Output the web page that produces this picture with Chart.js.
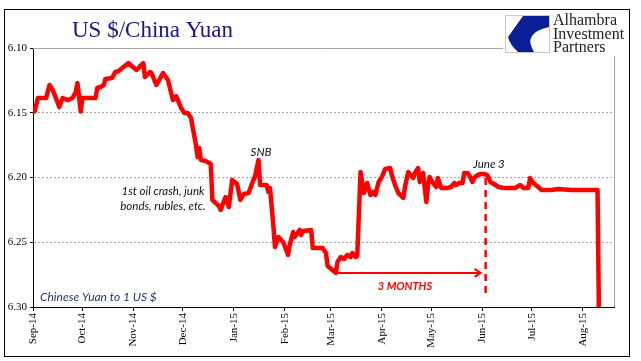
<!DOCTYPE html>
<html>
<head>
<meta charset="utf-8">
<script src="https://cdn.jsdelivr.net/npm/chart.js@4.4.0/dist/chart.umd.min.js"></script>
<style>
  body { margin: 0; background: #fff; }
</style>
</head>
<body>
<canvas id="cnyChart" width="641" height="361"></canvas>
<script>
// USD/CNY
var dates = [
  '2014-09-01','2014-09-02','2014-09-04','2014-09-09','2014-09-11','2014-09-13','2014-09-17','2014-09-19',
  '2014-09-22','2014-09-25','2014-09-27','2014-09-28','2014-09-30','2014-10-01','2014-10-09','2014-10-10',
  '2014-10-12','2014-10-14','2014-10-15','2014-10-19','2014-10-21','2014-10-23','2014-10-26','2014-10-29',
  '2014-10-31','2014-11-03','2014-11-07','2014-11-08','2014-11-11','2014-11-12','2014-11-15','2014-11-19',
  '2014-11-22','2014-11-25','2014-11-27','2014-11-30','2014-12-02','2014-12-04','2014-12-06','2014-12-09',
  '2014-12-10','2014-12-11','2014-12-12','2014-12-15','2014-12-18','2014-12-19','2014-12-23','2014-12-24',
  '2014-12-27','2014-12-29','2014-12-31','2015-01-03','2015-01-05','2015-01-07','2015-01-10','2015-01-12',
  '2015-01-14','2015-01-16','2015-01-17','2015-01-21','2015-01-22','2015-01-23','2015-01-25','2015-01-26',
  '2015-01-28','2015-01-31','2015-02-03','2015-02-04','2015-02-06','2015-02-07','2015-02-10','2015-02-11',
  '2015-02-12','2015-02-17','2015-02-18','2015-02-24','2015-02-26','2015-02-27','2015-03-02','2015-03-04',
  '2015-03-05','2015-03-07','2015-03-09','2015-03-11','2015-03-13','2015-03-14','2015-03-16','2015-03-17',
  '2015-03-19','2015-03-21','2015-03-23','2015-03-25','2015-03-27','2015-03-28','2015-03-30','2015-04-01',
  '2015-04-03','2015-04-06','2015-04-07','2015-04-09','2015-04-11','2015-04-14','2015-04-15','2015-04-17',
  '2015-04-20','2015-04-21','2015-04-23','2015-04-24','2015-04-26','2015-04-28','2015-04-29','2015-04-30',
  '2015-05-02','2015-05-04','2015-05-05','2015-05-07','2015-05-11','2015-05-13','2015-05-15','2015-05-16',
  '2015-05-18','2015-05-20','2015-05-21','2015-05-23','2015-05-24','2015-05-26','2015-05-27','2015-05-29',
  '2015-05-31','2015-06-02','2015-06-04','2015-06-06','2015-06-08','2015-06-11','2015-06-14','2015-06-21',
  '2015-06-23','2015-06-24','2015-06-26','2015-06-29','2015-06-30','2015-07-02','2015-07-05','2015-07-07',
  '2015-07-13','2015-07-17','2015-07-25','2015-08-02','2015-08-10','2015-08-11'
];
var yuan = [
  6.1456, 6.1490, 6.1386, 6.1386, 6.1286, 6.1324, 6.1456, 6.1386,
  6.1402, 6.1386, 6.1340, 6.1270, 6.1490, 6.1386, 6.1386, 6.1309,
  6.1301, 6.1286, 6.1239, 6.1232, 6.1185, 6.1178, 6.1147, 6.1116,
  6.1139, 6.1170, 6.1116, 6.1224, 6.1185, 6.1193, 6.1286, 6.1193,
  6.1247, 6.1402, 6.1371, 6.1463, 6.1502, 6.1502, 6.1541, 6.1749,
  6.1842, 6.1772, 6.1865, 6.1873, 6.1896, 6.2174, 6.2220, 6.2251,
  6.2151, 6.2228, 6.2019, 6.2050, 6.2174, 6.2127, 6.2120, 6.2050,
  6.1988, 6.1865, 6.2058, 6.2058, 6.2112, 6.2081, 6.2367, 6.2537,
  6.2459, 6.2498, 6.2598, 6.2521, 6.2421, 6.2459, 6.2405, 6.2444,
  6.2413, 6.2405, 6.2544, 6.2544, 6.2583, 6.2683, 6.2714, 6.2737,
  6.2653, 6.2614, 6.2629, 6.2598, 6.2614, 6.2583, 6.2614, 6.2606,
  6.1958, 6.2120, 6.2042, 6.2135, 6.2112, 6.2135, 6.2035, 6.1996,
  6.1934, 6.1927, 6.1981, 6.2058, 6.2120, 6.2158, 6.2073, 6.1958,
  6.2004, 6.1965, 6.1927, 6.2035, 6.1965, 6.2189, 6.2058, 6.1996,
  6.2042, 6.2073, 6.2004, 6.2081, 6.2081, 6.2073, 6.2042, 6.2058,
  6.2042, 6.2042, 6.1965, 6.1965, 6.1981, 6.2035, 6.2004, 6.1981,
  6.1973, 6.1973, 6.1981, 6.2035, 6.2050, 6.2073, 6.2081, 6.2081,
  6.2066, 6.2058, 6.2081, 6.2081, 6.2004, 6.2042, 6.2073, 6.2097,
  6.2097, 6.2089, 6.2097, 6.2097, 6.2097, 6.3231
];

var monthStarts = ['2014-09-01','2014-10-01','2014-11-01','2014-12-01','2015-01-01','2015-02-01',
                   '2015-03-01','2015-04-01','2015-05-01','2015-06-01','2015-07-01','2015-08-01'];
var monthLabels = ['Sep-14','Oct-14','Nov-14','Dec-14','Jan-15','Feb-15',
                   'Mar-15','Apr-15','May-15','Jun-15','Jul-15','Aug-15'];
var yTicks = [6.10, 6.15, 6.20, 6.25, 6.30];

var startDate = '2014-09-01';
var endDate = '2015-08-20';
var june3 = '2015-06-03';
var arrowFrom = '2015-03-05';
var arrowLevel = 6.2737;

// days since start, used as the x value
function dayNo(s) {
  var p = s.split('-');
  var q = startDate.split('-');
  return (Date.UTC(+p[0], p[1] - 1, +p[2]) - Date.UTC(+q[0], q[1] - 1, +q[2])) / 86400000;
}

var points = dates.map(function (d, i) { return { x: dayNo(d), y: yuan[i] }; });
var tickDays = monthStarts.map(dayNo);

var serif = 'Liberation Serif';

var decor = {
  id: 'decor',
  afterDraw: function (chart) {
    var ctx = chart.ctx;
    var a = chart.chartArea;
    var xs = chart.scales.x, ys = chart.scales.y;
    ctx.save();

    // plot frame top/right
    ctx.strokeStyle = '#a6a6a6';
    ctx.lineWidth = 1;
    ctx.beginPath();
    ctx.moveTo(a.left, a.top + 0.5);
    ctx.lineTo(a.right + 0.5, a.top + 0.5);
    ctx.lineTo(a.right + 0.5, a.bottom);
    ctx.stroke();

    // outer border
    ctx.strokeStyle = '#000';
    ctx.strokeRect(4.5, 9.5, 625, 347);

    // title
    ctx.fillStyle = '#161686';
    ctx.font = '23px ' + serif;
    ctx.textAlign = 'left';
    ctx.textBaseline = 'alphabetic';
    ctx.fillText('US $/China Yuan', 72, 37);

    // logo
    ctx.fillStyle = '#fff';
    ctx.fillRect(503, 10, 126, 46);
    ctx.strokeStyle = '#c8c8c8';
    ctx.strokeRect(505.5, 15.5, 44, 37);
    ctx.fillStyle = '#0a1f96';
    ctx.beginPath();
    ctx.moveTo(523, 16);
    ctx.lineTo(549, 16);
    ctx.lineTo(549, 27);
    ctx.quadraticCurveTo(522, 33, 534, 52);
    ctx.lineTo(518, 52);
    ctx.quadraticCurveTo(510, 45, 508, 37);
    ctx.closePath();
    ctx.fill();
    ctx.fillStyle = '#222';
    ctx.font = '16px ' + serif;
    ctx.fillText('Alhambra', 553, 25);
    ctx.fillText('Investment', 553, 39);
    ctx.fillText('Partners', 553, 52);

    // notes
    ctx.fillStyle = '#111';
    ctx.font = 'italic 11.5px Lato';
    ctx.textAlign = 'center';
    ctx.fillText('SNB', 261, 156);
    ctx.fillText('1st oil crash, junk', 163, 195);
    ctx.fillText('bonds, rubles, etc.', 163, 210);
    ctx.fillText('June 3', 489, 168);

    ctx.textAlign = 'left';
    ctx.fillStyle = '#1f3864';
    ctx.font = 'italic 12px Lato';
    ctx.fillText('Chinese Yuan to 1 US $', 40, 301);

    // 3 months arrow and June 3 marker
    var xj = xs.getPixelForValue(dayNo(june3));
    var x0 = xs.getPixelForValue(dayNo(arrowFrom));
    var ya = ys.getPixelForValue(arrowLevel);
    ctx.strokeStyle = '#ff0000';
    ctx.lineWidth = 2;
    ctx.beginPath();
    ctx.moveTo(x0, ya);
    ctx.lineTo(xj - 5, ya);
    ctx.moveTo(xj - 11, ya - 4);
    ctx.lineTo(xj - 5, ya);
    ctx.lineTo(xj - 11, ya + 4);
    ctx.stroke();

    ctx.lineWidth = 2.5;
    ctx.setLineDash([7, 5]);
    ctx.beginPath();
    ctx.moveTo(xj, ys.getPixelForValue(6.2004));
    ctx.lineTo(xj, ys.getPixelForValue(6.2923));
    ctx.stroke();
    ctx.setLineDash([]);

    ctx.fillStyle = '#ff0000';
    ctx.font = 'italic bold 11px Lato';
    ctx.textAlign = 'center';
    ctx.fillText('3 MONTHS', 405, 290);

    ctx.restore();
  }
};

var ctx = document.getElementById('cnyChart').getContext('2d');
var myChart = new Chart(ctx, {
  type: 'line',
  data: {
    datasets: [{
      label: 'USD/CNY',
      data: points,
      borderColor: '#ff0000',
      borderWidth: 4.5,
      pointRadius: 0,
      tension: 0,
      borderJoinStyle: 'round',
      fill: false
    }]
  },
  options: {
    responsive: false,
    animation: false,
    layout: { padding: { top: 48, right: 27, left: 0, bottom: 0 } },
    plugins: { legend: { display: false }, tooltip: { enabled: false } },
    scales: {
      x: {
        type: 'linear',
        min: 0,
        max: dayNo(endDate),
        afterBuildTicks: function (scale) {
          scale.ticks = tickDays.map(function (v) { return { value: v }; });
        },
        afterFit: function (scale) { scale.height = 54; },
        ticks: {
          autoSkip: false,
          minRotation: 90,
          maxRotation: 90,
          padding: 2,
          color: '#000',
          font: { family: serif, size: 11 },
          callback: function (v) {
            var i = tickDays.indexOf(v);
            return i >= 0 ? monthLabels[i] : '';
          }
        },
        grid: { drawOnChartArea: false, tickLength: 4, tickColor: '#000' },
        border: { color: '#000', width: 1 }
      },
      y: {
        type: 'linear',
        reverse: true,
        min: yTicks[0],
        max: yTicks[yTicks.length - 1],
        afterBuildTicks: function (scale) {
          scale.ticks = yTicks.map(function (v) { return { value: v }; });
        },
        afterFit: function (scale) { scale.width = 33; },
        ticks: {
          padding: 3,
          color: '#000',
          font: { family: serif, size: 11 },
          callback: function (v) { return Number(v).toFixed(2); }
        },
        grid: {
          color: function (c) {
            return (c.index === 0 || c.index === yTicks.length - 1) ? 'rgba(0,0,0,0)' : '#a6a6a6';
          },
          tickLength: 3,
          tickColor: '#000'
        },
        border: { color: '#000', width: 1, dash: [2, 2] }
      }
    }
  },
  plugins: [decor]
});
</script>
</body>
</html>
